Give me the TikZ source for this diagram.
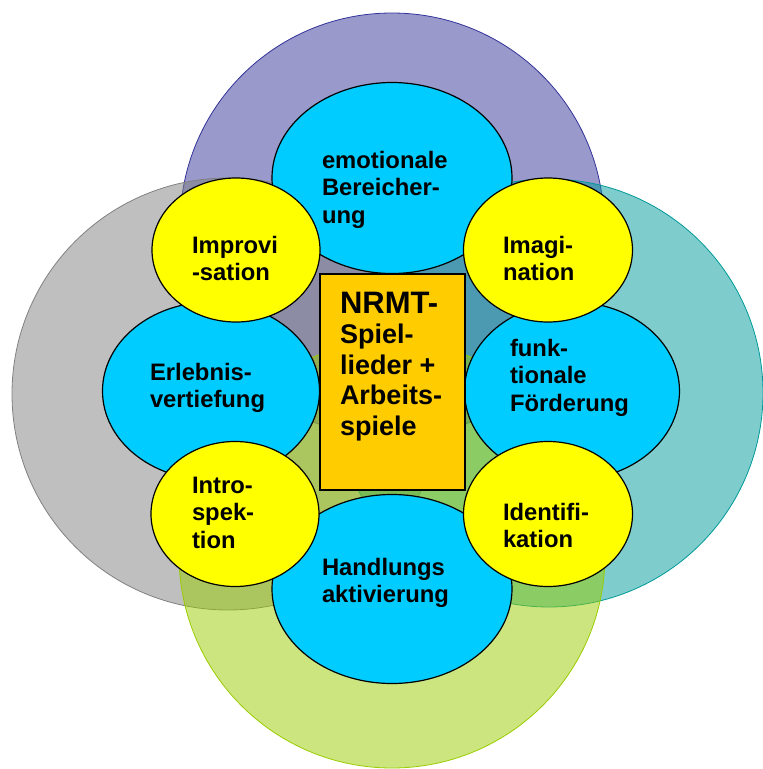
\documentclass[tikz,border=0pt]{standalone}
\usepackage{fontspec}
\setmainfont{Liberation Sans}
\usetikzlibrary{shapes.geometric}

\definecolor{ringpurple}{HTML}{333399}
\definecolor{ringgray}{HTML}{808080}
\definecolor{ringteal}{HTML}{009999}
\definecolor{ringgreen}{HTML}{99CC00}
\definecolor{cyanfill}{HTML}{00CCFF}
\definecolor{yellowfill}{HTML}{FFFF00}
\definecolor{boxfill}{HTML}{FFCC00}

\begin{document}
\begin{tikzpicture}[x=1pt, y=-1pt,
  ring/.style={circle, draw=#1, fill=#1, fill opacity=0.5, line width=0.8pt,
    inner sep=0pt, outer sep=0pt},
  oval/.style={ellipse, draw=black, line width=1.2pt, inner sep=0pt,
    outer sep=0pt},
  aspect/.style={oval, fill=cyanfill},
  method/.style={oval, fill=yellowfill},
  % labels are placed by the baseline of their last line
  lbl/.style={anchor=base west, inner sep=0pt, outer sep=0pt, align=left,
    font=\bfseries\fontsize{23.8}{27.5}\selectfont},
  corelbl/.style={anchor=base west, inner sep=0pt, outer sep=0pt, align=left,
    font=\bfseries\fontsize{27}{30.5}\selectfont}]

\useasboundingbox (0,0) rectangle (763,769);

% four translucent rings
\node[ring=ringpurple, minimum size=424pt] (ringtop)    at (392,225) {};
\node[ring=ringgray,   minimum size=432pt] (ringleft)   at (228,394) {};
\node[ring=ringteal,   minimum size=428pt] (ringright)  at (549,393) {};
\node[ring=ringgreen,  minimum size=426pt] (ringbottom) at (392,555) {};

% cyan aspects
\node[aspect, minimum width=240pt, minimum height=191pt] (emo)   at (392,178) {};
\node[aspect, minimum width=217pt, minimum height=178pt] (erl)   at (211,391) {};
\node[aspect, minimum width=215pt, minimum height=178pt] (funk)  at (572,391) {};
\node[aspect, minimum width=240pt, minimum height=189pt] (handl) at (392,589) {};

% yellow methods
\node[method, minimum width=168pt, minimum height=144pt] (impro) at (236,250) {};
\node[method, minimum width=168pt, minimum height=145pt] (intro) at (235,514) {};
\node[method, minimum width=169pt, minimum height=144pt] (imag)  at (548,250) {};
\node[method, minimum width=169pt, minimum height=145pt] (ident) at (548,514) {};

% central box
\node[draw=black, fill=boxfill, line width=1.2pt, minimum width=145pt,
  minimum height=216pt, inner sep=0pt] (core) at (392.5,382) {};

% labels
\node[lbl] (emotxt)   at (322,223) {emotionale\\Bereicher-\\ung};
\node[lbl] (improtxt) at (192,280.5) {Improvi\\-sation};
\node[lbl] (erltxt)   at (150,407.5) {Erlebnis-\\vertiefung};
\node[lbl] (introtxt) at (192,548) {Intro-\\spek-\\tion};
\node[lbl] (imagtxt)  at (503,280.5) {Imagi-\\nation};
\node[lbl] (funktxt)  at (510,411) {funk-\\tionale\\Förderung};
\node[lbl] (identtxt) at (503,547.5) {Identifi-\\kation};
\node[lbl] (handltxt) at (322,602.5) {Handlungs\\aktivierung};
\node[corelbl] (coretxt) at (340,435)
  {{\fontsize{31}{30.5}\selectfont NRMT-}\\Spiel-\\lieder +\\Arbeits-\\spiele};

\end{tikzpicture}
\end{document}
